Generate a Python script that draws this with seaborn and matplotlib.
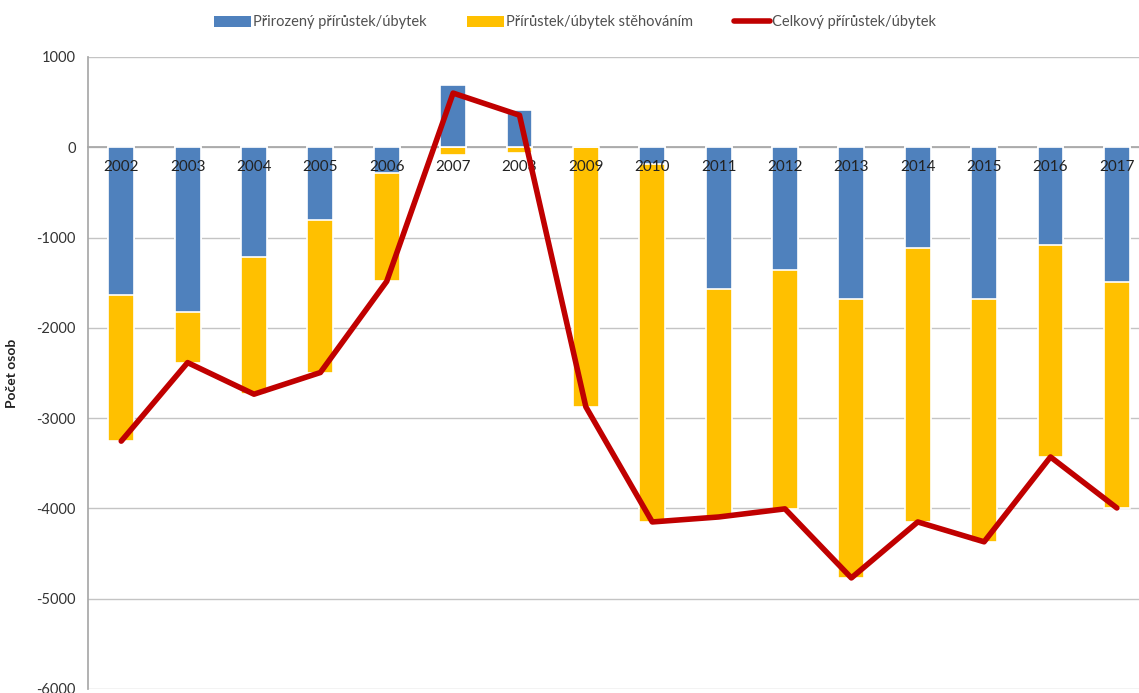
import numpy as np
import pandas as pd
import matplotlib
matplotlib.use("Agg")
import matplotlib.pyplot as plt
from matplotlib.patches import Patch
from matplotlib.lines import Line2D
import seaborn as sns

# Population change by year (persons)
years = [str(y) for y in range(2002, 2018)]
natural = [-1640, -1830, -1210, -810, -285, 690, 415, 0,
           -185, -1570, -1355, -1680, -1115, -1680, -1085, -1490]
migration = [-1615, -555, -1525, -1685, -1200, -90, -60, -2875,
             -3965, -2525, -2650, -3090, -3035, -2690, -2345, -2505]
total = [-3255, -2385, -2735, -2495, -1485, 600, 355, -2875,
         -4150, -4095, -4005, -4770, -4150, -4370, -3430, -3995]

series_labels = ["Přirozený přírůstek/úbytek",
                 "Přírůstek/úbytek stěhováním",
                 "Celkový přírůstek/úbytek"]
y_label = "Počet osob"
y_ticks = list(range(-6000, 1001, 1000))

BLUE = "#4f81bd"
YELLOW = "#ffc000"
RED = "#c00000"
GRID = "#c4c4c4"
AXIS = "#a8a8a8"

sns.set_theme(style="white")
plt.rcParams["font.family"] = ["Lato", "DejaVu Sans"]
plt.rcParams["axes.unicode_minus"] = False

df = pd.DataFrame({"rok": years, "prirozeny": natural,
                   "stehovani": migration, "celkem": total})
# migration segment sits below the negative part of natural change
df["spodni"] = np.minimum(df["prirozeny"], 0) + df["stehovani"]

fig = plt.figure(figsize=(11.39, 6.93), dpi=100)
ax = fig.add_axes([0.0773, 0.0058, 0.9324, 0.912])

sns.barplot(data=df, x="rok", y="spodni", color=YELLOW, saturation=1,
            width=0.39, edgecolor="white", linewidth=1.2, errorbar=None,
            ax=ax, zorder=2)
sns.barplot(data=df, x="rok", y="prirozeny", color=BLUE, saturation=1,
            width=0.39, edgecolor="white", linewidth=1.2, errorbar=None,
            ax=ax, zorder=3)
sns.lineplot(x=np.arange(len(df)), y=df["celkem"].values, color=RED,
             linewidth=4, ax=ax, zorder=4)

ax.set_xlim(-0.5, len(years) - 0.5)
ax.set_ylim(-6000, 1000)
ax.set_yticks(y_ticks)
ax.yaxis.grid(True, color=GRID, linewidth=1)
ax.xaxis.grid(False)
ax.set_axisbelow(True)

for side in ("top", "right"):
    ax.spines[side].set_visible(False)
ax.spines["left"].set_color(AXIS)
ax.spines["bottom"].set_color(AXIS)
ax.spines["bottom"].set_position(("data", 0))
ax.spines["bottom"].set_zorder(1)

ax.set_xticks(np.arange(len(years)))
ax.set_xticklabels(years)
ax.set_xticks(np.arange(len(years) - 1) + 0.5, minor=True)
ax.tick_params(axis="x", which="major", length=0, pad=9,
               labelsize=11, labelcolor="#222222")
ax.tick_params(axis="x", which="minor", length=5, width=1,
               color=AXIS, direction="out")
ax.tick_params(axis="y", length=6, width=1, color=AXIS, pad=3,
               labelsize=10.5, labelcolor="#333333")
# year labels sit over the bars but under the total line
ax.xaxis.set_zorder(3.5)

ax.set_xlabel("")
ax.set_ylabel(y_label, fontsize=10, fontweight="bold", color="#222222")
ax.yaxis.set_label_coords(-0.066, 0.5)

handles = [Patch(facecolor=BLUE, edgecolor="none"),
           Patch(facecolor=YELLOW, edgecolor="none"),
           Line2D([0], [0], color=RED, linewidth=4)]
fig.legend(handles, series_labels, loc="center", bbox_to_anchor=(0.505, 0.968),
           ncol=3, frameon=False, fontsize=10.5, labelcolor="#505050",
           handlelength=2.5, handleheight=0.8, handletextpad=0.15,
           columnspacing=2.8)

fig.savefig("out.png", dpi=100)
